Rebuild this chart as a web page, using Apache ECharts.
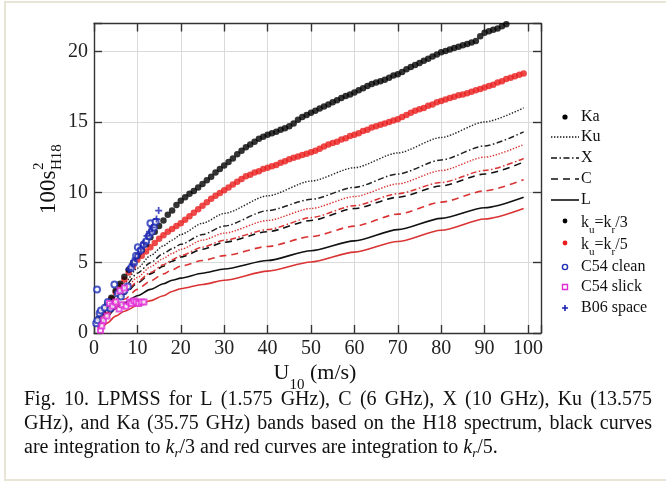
<!DOCTYPE html>
<html><head><meta charset="utf-8">
<script src="https://cdn.jsdelivr.net/npm/echarts@6/dist/echarts.min.js"></script>
<style>html,body{margin:0;padding:0;background:#fff}#c{width:666px;height:483px}</style>
</head><body><div id="c"></div>
<script>
// ---- data ----
const lineU = [1,2,3,5,7,10,13,16,18,20,25,30,40,50,60,70,80,90,99];
const ku3 = [0.9,1.4,1.85,2.8,3.55,4.6,5.5,6.2,6.6,7.0,7.8,8.5,9.75,10.8,11.75,12.8,13.9,15.0,16.0];
const x3  = [0.8,1.3,1.7,2.6,3.3,4.25,5.0,5.65,6.0,6.3,7.0,7.6,8.7,9.5,10.35,11.3,12.3,13.3,14.3];
const c3  = [0.6,1.0,1.4,2.1,2.75,3.55,4.2,4.75,5.1,5.4,5.95,6.45,7.2,8.0,8.85,9.65,10.45,11.3,12.15];
const l3  = [0.35,0.8,1.15,1.75,2.15,2.65,3.1,3.5,3.75,3.9,4.25,4.55,5.15,5.85,6.55,7.35,8.15,8.9,9.65];
const ku5 = [0.7,1.2,1.6,2.4,3.1,3.95,4.7,5.3,5.65,5.95,6.6,7.1,8.0,8.85,9.7,10.6,11.55,12.5,13.4];
const x5  = [0.6,1.05,1.45,2.2,2.85,3.65,4.3,4.85,5.2,5.5,6.1,6.6,7.35,8.2,9.05,9.9,10.7,11.55,12.4];
const c5  = [0.5,0.85,1.2,1.85,2.4,3.1,3.7,4.2,4.5,4.75,5.15,5.5,6.15,6.85,7.6,8.45,9.3,10.1,10.9];
const l5  = [0.25,0.45,0.7,1.2,1.55,1.95,2.3,2.65,2.95,3.15,3.45,3.75,4.4,5.05,5.75,6.5,7.3,8.1,8.85];

const kaK3 = [1.0,1.5,2.0,2.5,3.0,3.5,4.0,4.5,5.0,5.5,5.9,6.3,6.8,7.2,7.6,8.0,8.4,8.7,9.1,9.4,
  9.65,9.9,10.1,10.35,10.6,10.85,11.1,11.4,11.65,11.9,12.15,12.4,12.7,12.95,13.2,13.4,13.6,13.8,13.95,14.1,
  14.2,14.3,14.45,14.55,14.7,14.9,15.15,15.35,15.5,15.65,15.8,15.95,16.1,16.25,16.4,16.55,16.7,16.85,16.95,17.1,
  17.25,17.4,17.55,17.7,17.8,17.9,18.0,18.15,18.3,18.4,18.55,18.75,18.9,19.05,19.2,19.35,19.5,19.65,19.8,19.95,
  20.05,20.15,20.25,20.35,20.45,20.55,20.65,20.75,21.1,21.35,21.45,21.55,21.65,21.8,21.95,22.05,22.15];
const kaK5 = [0.9,1.4,1.9,2.4,2.9,3.35,3.8,4.3,4.75,5.2,5.5,5.8,6.1,6.4,6.7,6.95,7.2,7.4,7.6,7.8,
  8.05,8.3,8.55,8.8,9.05,9.3,9.55,9.75,9.95,10.15,10.35,10.55,10.75,10.95,11.15,11.25,11.4,11.5,11.65,11.75,
  11.85,11.95,12.1,12.2,12.35,12.45,12.55,12.65,12.75,12.85,12.95,13.1,13.25,13.4,13.5,13.6,13.75,13.85,14.0,14.1,
  14.2,14.35,14.45,14.6,14.7,14.8,14.9,15.0,15.1,15.2,15.35,15.5,15.65,15.8,15.9,16.0,16.15,16.25,16.4,16.5,
  16.6,16.7,16.8,16.9,16.95,17.05,17.15,17.25,17.35,17.45,17.55,17.65,17.8,17.9,18.05,18.15,18.25,18.35,18.45];

const c54Clean = [[0.7,3.1],[0.5,0.7],[0.8,0.9],[1.3,1.4],[1.6,1.6],[2.5,1.8],[3.2,2.2],[3.8,1.75],[4.7,3.45],
  [5.5,2.8],[6.2,2.6],[7.0,3.0],[7.8,3.3],[8.5,4.6],[9.2,5.0],[9.7,5.5],[10.1,6.1],[10.8,5.9],[11.5,6.3],
  [12.0,6.5],[12.6,6.9],[13.0,7.8],[13.3,7.2],[13.8,7.5],[14.2,7.9]];
const c54Slick = [[1.5,0.2],[1.8,0.5],[2.2,0.9],[3.0,1.2],[3.6,2.1],[4.3,1.9],[5.0,2.2],[5.8,1.7],[6.0,3.0],
  [6.5,2.0],[7.0,3.2],[7.4,1.9],[8.2,2.2],[8.6,2.1],[9.2,2.3],[9.7,2.2],[10.3,2.1],[10.9,2.2],[11.5,2.2]];
const b06Space = [[8.0,4.5],[8.8,4.9],[9.5,5.3],[10.2,5.6],[10.8,6.0],[11.5,6.4],[12.2,6.9],[12.8,7.2],
  [13.4,7.5],[14.4,8.1],[14.9,8.7]];

const xTicks = [0,10,20,30,40,50,60,70,80,90,100];
const yTicks = [0,5,10,15,20];
const caption1 = ["Fig.","10.","LPMSS","for","L","(1.575","GHz),","C","(6","GHz),","X","(10","GHz),","Ku","(13.575"];
const caption2 = ["GHz),","and","Ka","(35.75","GHz)","bands","based","on","the","H18","spectrum,","black","curves"];

// ---- helpers ----
const serif = '"Liberation Serif","Times New Roman",serif';
const RED_DOT = '#ea1c1c', RED_LINE = '#d93333';
const kaSpeedsK3 = kaK3.map((v, i) => i + 1);
const kaSpeedsK5 = kaK5.map((v, i) => i + 1);
const zip = (xs, ys) => xs.map((x, i) => [x, ys[i]]);

const DOT = [1.4, 1.6], DASHDOT = [6, 2.5, 1.5, 2.5], DASH = [7, 5];
function lineSeries(name, ys, color, dash, w) {
  return { name, type: 'line', data: zip(lineU, ys), showSymbol: false, symbol: 'none',
    smooth: 0.25, smoothMonotone: 'x', z: 2,
    lineStyle: { color, width: w || 1.4, type: dash || 'solid' } };
}

const chart = echarts.init(document.getElementById('c'), null, { renderer: 'canvas' });

const axisLineStyle = { color: '#333', width: 1.4 };
const tickStyle = { color: '#333', width: 1.4 };

// caption justification
const mctx = document.createElement('canvas').getContext('2d');
const CAP_SIZE = 20;
function justify(words, y, x0, x1) {
  mctx.font = CAP_SIZE + 'px "Liberation Serif"';
  const ws = words.map(w => mctx.measureText(w).width);
  const tot = ws.reduce((a, b) => a + b, 0);
  const gap = (x1 - x0 - tot) / (words.length - 1);
  let x = x0; const out = [];
  words.forEach((w, i) => {
    out.push({ type: 'text', x, y, style: { text: w, fontFamily: serif, fontSize: CAP_SIZE, fill: '#111', verticalAlign: 'middle' } });
    x += ws[i] + gap;
  });
  return out;
}

const legendItems = [];
const LX = 565, LT = 581, LFS = 16;
function ltext(y, text, rich) {
  return { type: 'text', x: LT, y, style: { text, rich, fontFamily: serif, fontSize: LFS, fill: '#111', verticalAlign: 'middle' } };
}
const kRich = { n: { fontFamily: serif, fontSize: LFS, fill: '#111' }, s: { fontFamily: serif, fontSize: 11, fill: '#111', padding: [14, 0, 0, 0] } };
legendItems.push({ type: 'circle', shape: { cx: LX, cy: 117, r: 2.6 }, style: { fill: '#000' } }, ltext(117, 'Ka'));
legendItems.push({ type: 'line', shape: { x1: 551, y1: 137, x2: 579, y2: 137 }, style: { stroke: '#111', lineWidth: 1.3, lineDash: DOT } }, ltext(137, 'Ku'));
legendItems.push({ type: 'line', shape: { x1: 551, y1: 158, x2: 579, y2: 158 }, style: { stroke: '#111', lineWidth: 1.4, lineDash: DASHDOT } }, ltext(158, 'X'));
legendItems.push({ type: 'line', shape: { x1: 551, y1: 179, x2: 579, y2: 179 }, style: { stroke: '#111', lineWidth: 1.4, lineDash: DASH } }, ltext(179, 'C'));
legendItems.push({ type: 'line', shape: { x1: 551, y1: 200, x2: 579, y2: 200 }, style: { stroke: '#111', lineWidth: 1.6 } }, ltext(200, 'L'));
legendItems.push({ type: 'circle', shape: { cx: LX, cy: 221, r: 2.4 }, style: { fill: '#000' } },
  ltext(223, '{n|k}{s|u}{n|=k}{s|r}{n|/3}', kRich));
legendItems.push({ type: 'circle', shape: { cx: LX, cy: 243, r: 2.4 }, style: { fill: RED_DOT } },
  ltext(245, '{n|k}{s|u}{n|=k}{s|r}{n|/5}', kRich));
legendItems.push({ type: 'circle', shape: { cx: LX, cy: 267, r: 2.6 }, style: { fill: 'none', stroke: '#1f2fb5', lineWidth: 1.4 } }, ltext(267, 'C54 clean'));
legendItems.push({ type: 'rect', shape: { x: LX - 2.5, y: 284.5, width: 5, height: 5 }, style: { fill: 'none', stroke: '#e02bd6', lineWidth: 1.4 } }, ltext(287, 'C54 slick'));
legendItems.push({ type: 'polygon', shape: { points: [[LX-0.8,305],[LX+0.8,305],[LX+0.8,307.2],[LX+3,307.2],[LX+3,308.8],[LX+0.8,308.8],[LX+0.8,311],[LX-0.8,311],[LX-0.8,308.8],[LX-3,308.8],[LX-3,307.2],[LX-0.8,307.2]] }, style: { fill: '#1a22b0' } }, ltext(308, 'B06 space'));

const graphics = [
  { type: 'rect', shape: { x: 5, y: 2, width: 670, height: 478 }, style: { fill: 'none', stroke: '#e9e5d6', lineWidth: 2 }, z: -1 },
  // x axis title
  { type: 'text', x: 315, y: 373, style: { text: '{n|U}{s|10}{n| (m/s)}', align: 'center', verticalAlign: 'middle',
      rich: { n: { fontFamily: serif, fontSize: 22, fill: '#111' }, s: { fontFamily: serif, fontSize: 15, fill: '#111', padding: [24, 0, 0, 0] } } } },
  // y axis title
  { type: 'group', x: 49, y: 177, rotation: Math.PI / 2, children: [
      { type: 'text', x: -37, y: 0, style: { text: '100s', fontFamily: serif, fontSize: 23, fill: '#111', verticalAlign: 'middle' } },
      { type: 'text', x: 7, y: -10, style: { text: '2', fontFamily: serif, fontSize: 15, fill: '#111', verticalAlign: 'middle' } },
      { type: 'text', x: 7, y: 8, style: { text: 'H18', fontFamily: serif, fontSize: 15, fill: '#111', verticalAlign: 'middle' } }
  ] },
  ...legendItems,
  ...justify(caption1, 400, 24, 652),
  ...justify(caption2, 424, 24, 652),
  { type: 'text', x: 24, y: 448, style: { text: '{n|are integration to }{i|k}{s|r}{n|/3 and red curves are integration to }{i|k}{s|r}{n|/5.}', verticalAlign: 'middle',
      rich: { n: { fontFamily: serif, fontSize: CAP_SIZE, fill: '#111' }, i: { fontFamily: serif, fontStyle: 'italic', fontSize: CAP_SIZE, fill: '#111' },
              s: { fontFamily: serif, fontStyle: 'italic', fontSize: 13, fill: '#111', padding: [12, 0, 0, 0] } } } }
];

chart.setOption({
  backgroundColor: '#fff',
  animation: false,
  grid: { left: 94, right: 125, top: 23.5, bottom: 150, containLabel: false },
  xAxis: [
    { type: 'value', min: 0, max: 103, interval: 10, position: 'bottom',
      axisLine: { show: true, onZero: false, lineStyle: axisLineStyle },
      axisTick: { show: true, inside: true, length: 8, lineStyle: tickStyle },
      axisLabel: { color: '#222', fontFamily: serif, fontSize: 20, margin: 6,
        formatter: v => (xTicks.indexOf(v) >= 0 ? String(v) : '') },
      splitLine: { show: true, lineStyle: { color: '#dadada', width: 1 } } },
    { type: 'value', min: 0, max: 103, interval: 10, position: 'top',
      axisLine: { show: true, onZero: false, lineStyle: axisLineStyle },
      axisTick: { show: true, inside: true, length: 8, lineStyle: tickStyle },
      axisLabel: { show: false }, splitLine: { show: false } }
  ],
  yAxis: [
    { type: 'value', min: 0, max: 22, interval: 5, position: 'left',
      axisLine: { show: true, onZero: false, lineStyle: axisLineStyle },
      axisTick: { show: true, inside: true, length: 8, lineStyle: tickStyle },
      axisLabel: { color: '#222', fontFamily: serif, fontSize: 20, margin: 6,
        formatter: v => (yTicks.indexOf(v) >= 0 ? String(v) : '') },
      splitLine: { show: true, lineStyle: { color: '#dadada', width: 1 } } },
    { type: 'value', min: 0, max: 22, interval: 5, position: 'right',
      axisLine: { show: true, onZero: false, lineStyle: axisLineStyle },
      axisTick: { show: true, inside: true, length: 8, lineStyle: tickStyle },
      axisLabel: { show: false }, splitLine: { show: false } }
  ],
  series: [
    lineSeries('L k_r/3', l3, '#111', 'solid', 1.6),
    lineSeries('L k_r/5', l5, RED_LINE, 'solid', 1.6),
    lineSeries('C k_r/3', c3, '#111', DASH, 1.6),
    lineSeries('C k_r/5', c5, RED_LINE, DASH, 1.6),
    lineSeries('X k_r/3', x3, '#222', DASHDOT, 1.5),
    lineSeries('X k_r/5', x5, RED_LINE, DASHDOT, 1.5),
    lineSeries('Ku k_r/3', ku3, '#222', DOT, 1.4),
    lineSeries('Ku k_r/5', ku5, RED_LINE, DOT, 1.4),
    { name: 'Ka k_r/5', type: 'scatter', data: zip(kaSpeedsK5, kaK5), symbol: 'circle', symbolSize: 6.5, z: 3,
      itemStyle: { color: RED_DOT } },
    { name: 'Ka k_r/3', type: 'scatter', data: zip(kaSpeedsK3, kaK3), symbol: 'circle', symbolSize: 6.5, z: 3,
      itemStyle: { color: '#000' } },
    { name: 'C54 clean', type: 'scatter', data: c54Clean, symbol: 'emptyCircle', symbolSize: 6, z: 4,
      itemStyle: { color: '#1f2fb5', borderColor: '#1f2fb5', borderWidth: 1.4 } },
    { name: 'C54 slick', type: 'scatter', data: c54Slick, symbol: 'emptyRect', symbolSize: 5, z: 4,
      itemStyle: { color: '#e02bd6', borderColor: '#e02bd6', borderWidth: 1.4 } },
    { name: 'B06 space', type: 'scatter', data: b06Space, symbol: 'path://M3,0H5V3H8V5H5V8H3V5H0V3H3Z', symbolSize: 7, z: 4,
      itemStyle: { color: '#1a22b0' } }
  ],
  graphic: graphics
});
</script></body></html>
